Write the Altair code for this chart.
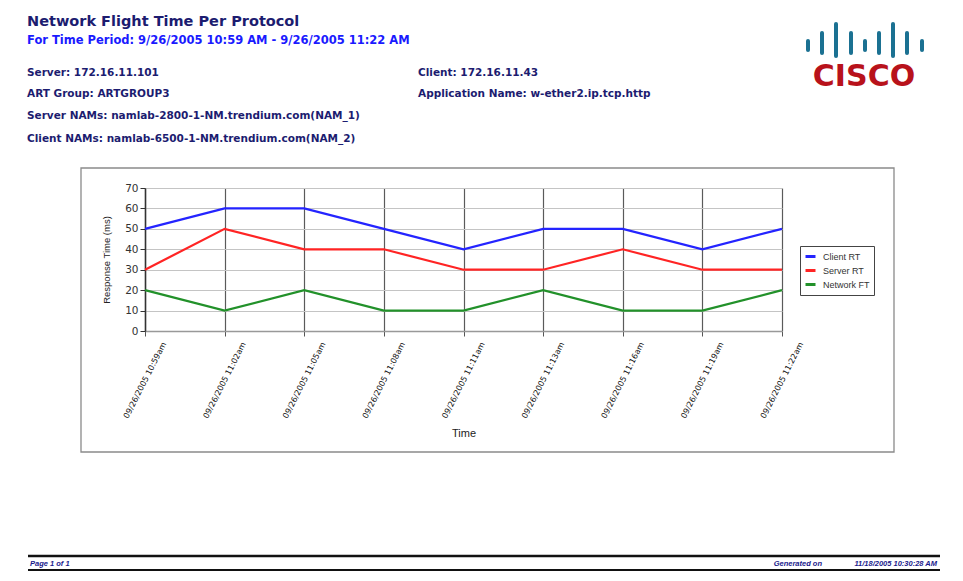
import altair as alt
import pandas as pd

# ---------------- data ----------------
times = [
    "09/26/2005 10:59am", "09/26/2005 11:02am", "09/26/2005 11:05am",
    "09/26/2005 11:08am", "09/26/2005 11:11am", "09/26/2005 11:13am",
    "09/26/2005 11:16am", "09/26/2005 11:19am", "09/26/2005 11:22am",
]
client_rt = [50, 60, 60, 50, 40, 50, 50, 40, 50]
server_rt = [30, 50, 40, 40, 30, 30, 40, 30, 30]
network_ft = [20, 10, 20, 10, 10, 20, 10, 10, 20]
series_names = ["Client RT", "Server RT", "Network FT"]
series_colors = ["#2424ff", "#ff2424", "#22912a"]
y_ticks = [0, 10, 20, 30, 40, 50, 60, 70]

title_text = "Network Flight Time Per Protocol"
subtitle_text = "For Time Period: 9/26/2005 10:59 AM - 9/26/2005 11:22 AM"
info_left = [
    "Server: 172.16.11.101",
    "ART Group: ARTGROUP3",
    "Server NAMs: namlab-2800-1-NM.trendium.com(NAM_1)",
    "Client NAMs: namlab-6500-1-NM.trendium.com(NAM_2)",
]
info_right = ["Client: 172.16.11.43", "Application Name: w-ether2.ip.tcp.http"]
footer_left = "Page 1 of 1"
footer_gen = "Generated on"
footer_date = "11/18/2005 10:30:28 AM"

rows = []
for name, vals in zip(series_names, [client_rt, server_rt, network_ft]):
    for t, v in zip(times, vals):
        rows.append({"Time": t, "Response": v, "Series": name})
df = pd.DataFrame(rows)

one = pd.DataFrame({"a": [0]})

# plot origin on page: (145, 188)
OX, OY = 145, 188

NAVY = "#1c1c70"
BLUE = "#1a1aff"
FOOT = "#1a1a8c"


def txt(s, px, py, size, color, weight="bold", style="normal", align="left",
        font="DejaVu Sans", baseline="alphabetic"):
    return alt.Chart(one).mark_text(
        text=s, fontSize=size, color=color, fontWeight=weight, fontStyle=style,
        align=align, baseline=baseline, font=font,
    ).encode(x=alt.value(px - OX), y=alt.value(py - OY))


def rule(px1, px2, py, color, width):
    return alt.Chart(one).mark_rule(color=color, strokeWidth=width).encode(
        x=alt.value(px1 - OX), x2=alt.value(px2 - OX), y=alt.value(py - OY))


# chart frame box
frame = alt.Chart(one).mark_rect(fill="transparent", stroke="#8a8a8a", strokeWidth=1.3).encode(
    x=alt.value(81 - OX), x2=alt.value(894 - OX), y=alt.value(168 - OY), y2=alt.value(452 - OY))

lines = alt.Chart(df).mark_line(strokeWidth=2.2).encode(
    x=alt.X("Time:N", sort=times, scale=alt.Scale(type="point", padding=0),
            axis=alt.Axis(title="Time", labelAngle=297, labelAlign="center", labelBaseline="middle",
                          labelPadding=44, labelFontSize=8, labelFont="DejaVu Sans", labelColor="#111",
                          labelOverlap=False, tickSize=5, tickColor="#555", domainColor="#999",
                          domainWidth=1.5, grid=True, gridColor="#5a5a5a", gridWidth=1.2,
                          titleFontSize=11, titleFontWeight="normal", titleFont="Liberation Sans",
                          titleColor="#222", titleY=102, titleBaseline="middle")),
    y=alt.Y("Response:Q", scale=alt.Scale(domain=[0, 70], nice=False),
            axis=alt.Axis(title="Response Time (ms)", values=y_ticks, tickSize=5, tickColor="#333",
                          labelPadding=2, labelFontSize=10.5, labelFont="DejaVu Sans", labelColor="#333",
                          domainColor="#333", domainWidth=1.5, grid=True, gridColor="#c4c4c4",
                          gridWidth=1.2, titleFontSize=9.5, titleFontWeight="normal",
                          titleFont="Liberation Sans", titleColor="#222", titleX=106 - OX,
                          titleY=71.5, titleAngle=270, titleAlign="center", titleBaseline="middle")),
    color=alt.Color("Series:N", sort=series_names,
                    scale=alt.Scale(domain=series_names, range=series_colors),
                    legend=alt.Legend(title=None, orient="none", legendX=800 - OX, legendY=246 - OY,
                                      symbolType="stroke", symbolSize=100, symbolStrokeWidth=3,
                                      labelFontSize=9, labelFont="Liberation Sans", labelColor="#333",
                                      labelOffset=6, rowPadding=1, padding=4,
                                      strokeColor="#444", fillColor="white")),
)

layers = [frame, lines]

# header
layers.append(txt(title_text, 27, 26, 14.5, NAVY))
layers.append(txt(subtitle_text, 27, 44, 11.5, BLUE))
for s, py in zip(info_left, [76, 97, 119, 142]):
    layers.append(txt(s, 27, py, 10.5, NAVY))
for s, py in zip(info_right, [76, 97]):
    layers.append(txt(s, 418, py, 10.5, NAVY))

# cisco logo
bar_x = [808, 822, 836, 851, 865, 879, 893, 907, 922]
bar_kind = ["s", "m", "t", "m", "s", "m", "t", "m", "s"]
spans = {"s": (41, 50), "m": (33, 53), "t": (24, 56)}
logo_df = pd.DataFrame({
    "bx": [x - OX for x in bar_x],
    "by1": [spans[k][0] - OY for k in bar_kind],
    "by2": [spans[k][1] - OY for k in bar_kind],
})
logo = alt.Chart(logo_df).mark_rule(color="#1b7192", strokeWidth=4, strokeCap="round").encode(
    x=alt.X("bx:Q", scale=None), y=alt.Y("by1:Q", scale=None), y2="by2:Q")
layers.append(logo)
layers.append(txt("CISCO", 864, 86, 30, "#b8121b", align="center", font="DejaVu Sans"))

# footer
layers.append(rule(28, 940, 556, "#111", 2.5))
layers.append(rule(28, 940, 570, "#111", 2))
layers.append(txt(footer_left, 30, 566, 7.5, FOOT, style="italic", font="Liberation Sans"))
layers.append(txt(footer_gen, 822, 566, 7.5, FOOT, style="italic", align="right", font="Liberation Sans"))
layers.append(txt(footer_date, 937, 566, 7.5, FOOT, style="italic", align="right", font="Liberation Sans"))

chart = alt.layer(*layers).properties(
    width=637, height=143,
    padding={"left": OX - 8, "top": OY - 8, "right": 947 - (OX - 8) - 637, "bottom": 565 - (OY - 8) - 143 - 2},
    autosize=alt.AutoSizeParams(type="none"),
    background="white",
).configure_view(stroke="transparent")

chart.save("out.html", embed_options={"renderer": "svg", "actions": False})
